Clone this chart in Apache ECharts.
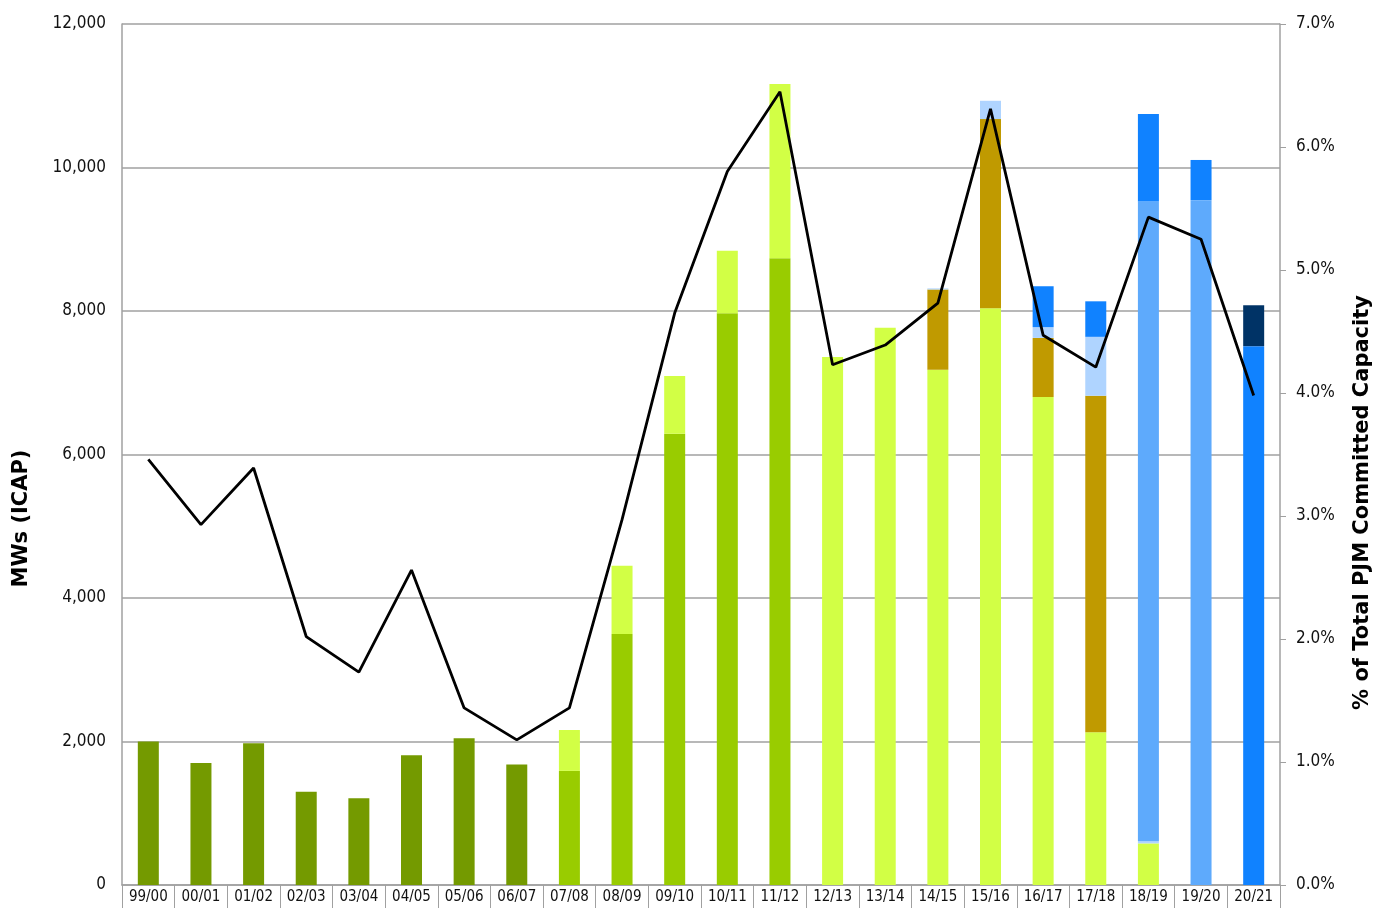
<!DOCTYPE html>
<html>
<head>
<meta charset="utf-8">
<script src="https://cdn.jsdelivr.net/npm/echarts@6/dist/echarts.min.js"></script>
<style>
  html, body { margin: 0; padding: 0; background: #fff; }
  #chart { width: 1375px; height: 908px; }
</style>
</head>
<body>
<div id="chart"></div>
<script>
// categories (delivery years)
var years = ['99/00', '00/01', '01/02', '02/03', '03/04', '04/05', '05/06', '06/07', '07/08', '08/09', '09/10',
  '10/11', '11/12', '12/13', '13/14', '14/15', '15/16', '16/17', '17/18', '18/19', '19/20', '20/21'];

// stacked segments, MW (ICAP)
var oliveMw  = [2000, 1700, 1975, 1300, 1210, 1810, 2045, 1680, 0, 0, 0, 0, 0, 0, 0, 0, 0, 0, 0, 0, 0, 0];
var greenMw  = [0, 0, 0, 0, 0, 0, 0, 0, 1590, 3500, 6290, 7970, 8735, 0, 0, 0, 0, 0, 0, 0, 0, 0];
var limeMw   = [0, 0, 0, 0, 0, 0, 0, 0, 570, 950, 805, 870, 2430, 7360, 7765, 7180, 8040, 6800, 2130, 580, 0, 0];
var goldMw   = [0, 0, 0, 0, 0, 0, 0, 0, 0, 0, 0, 0, 0, 0, 0, 1120, 2635, 825, 4690, 0, 0, 0];
var paleMw   = [0, 0, 0, 0, 0, 0, 0, 0, 0, 0, 0, 0, 0, 0, 0, 15, 255, 150, 820, 30, 0, 0];
var skyMw    = [0, 0, 0, 0, 0, 0, 0, 0, 0, 0, 0, 0, 0, 0, 0, 0, 0, 0, 0, 8915, 9545, 0];
var blueMw   = [0, 0, 0, 0, 0, 0, 0, 0, 0, 0, 0, 0, 0, 0, 0, 0, 0, 570, 495, 1220, 560, 7510];
var navyMw   = [0, 0, 0, 0, 0, 0, 0, 0, 0, 0, 0, 0, 0, 0, 0, 0, 0, 0, 0, 0, 0, 570];

// line, % of total PJM committed capacity
var pctTotal = [3.46, 2.93, 3.39, 2.02, 1.73, 2.56, 1.44, 1.18, 1.44, 2.97, 4.65,
  5.80, 6.45, 4.23, 4.39, 4.73, 6.31, 4.47, 4.21, 5.43, 5.25, 3.98];

var narrow = '"Liberation Sans Narrow", "DejaVu Sans Condensed", Arial, sans-serif';
var bold = '"DejaVu Sans", "Liberation Sans", Arial, sans-serif';

var chart = echarts.init(document.getElementById('chart'));

function bar(name, data, color) {
  return {
    name: name,
    type: 'bar',
    stack: 'mw',
    barWidth: 21,
    data: data,
    itemStyle: { color: color },
    emphasis: { disabled: true }
  };
}

var option = {
  animation: false,
  backgroundColor: '#fff',
  grid: { left: 122, right: 95, top: 24, bottom: 23, containLabel: false, outerBoundsMode: 'none' },
  xAxis: {
    type: 'category',
    data: years,
    boundaryGap: true,
    axisLine: { lineStyle: { color: '#a0a0a0', width: 1.5 } },
    axisTick: { show: true, interval: 0, length: 25, lineStyle: { color: '#a0a0a0', width: 1 } },
    axisLabel: { interval: 0, margin: 5, color: '#111', fontSize: 15, fontFamily: narrow }
  },
  yAxis: [{
    type: 'value',
    min: 0,
    max: 12000,
    interval: 2000,
    name: 'MWs (ICAP)',
    nameLocation: 'middle',
    nameRotate: 90,
    nameGap: 90,
    nameTextStyle: { fontFamily: bold, fontWeight: 'bold', fontSize: 21, color: '#000', padding: [0, 128, 0, 0] },
    axisLine: { show: true, lineStyle: { color: '#a0a0a0', width: 1.5 } },
    axisTick: { show: false },
    splitLine: { lineStyle: { color: '#a0a0a0', width: 1.5 } },
    axisLabel: {
      margin: 16, color: '#111', fontSize: 17, fontFamily: narrow,
      formatter: function (v) { return v.toLocaleString('en-US'); }
    }
  }, {
    type: 'value',
    min: 0,
    max: 7,
    interval: 1,
    name: '% of Total PJM Committed Capacity',
    nameLocation: 'middle',
    nameRotate: 90,
    nameGap: 72,
    nameTextStyle: { fontFamily: bold, fontWeight: 'bold', fontSize: 21, color: '#000', padding: [0, 96, 0, 0] },
    axisLine: { show: true, lineStyle: { color: '#a0a0a0', width: 1.5 } },
    axisTick: { show: true, length: 6, inside: false, lineStyle: { color: '#a0a0a0' } },
    splitLine: { show: false },
    axisLabel: {
      margin: 16, color: '#111', fontSize: 17, fontFamily: narrow,
      formatter: function (v) { return v.toFixed(1) + '%'; }
    }
  }],
  series: [
    bar('olive', oliveMw, '#749a00'),
    bar('green', greenMw, '#99cc00'),
    bar('lime', limeMw, '#d2ff45'),
    bar('gold', goldMw, '#c09a00'),
    bar('pale', paleMw, '#afd4ff'),
    bar('sky', skyMw, '#5eaafc'),
    bar('blue', blueMw, '#1082ff'),
    bar('navy', navyMw, '#003366'),
    {
      name: 'pct',
      type: 'line',
      yAxisIndex: 1,
      data: pctTotal,
      showSymbol: false,
      symbol: 'none',
      lineStyle: { color: '#000', width: 2.8 },
      z: 5
    }
  ]
};

chart.setOption(option);
</script>
</body>
</html>
